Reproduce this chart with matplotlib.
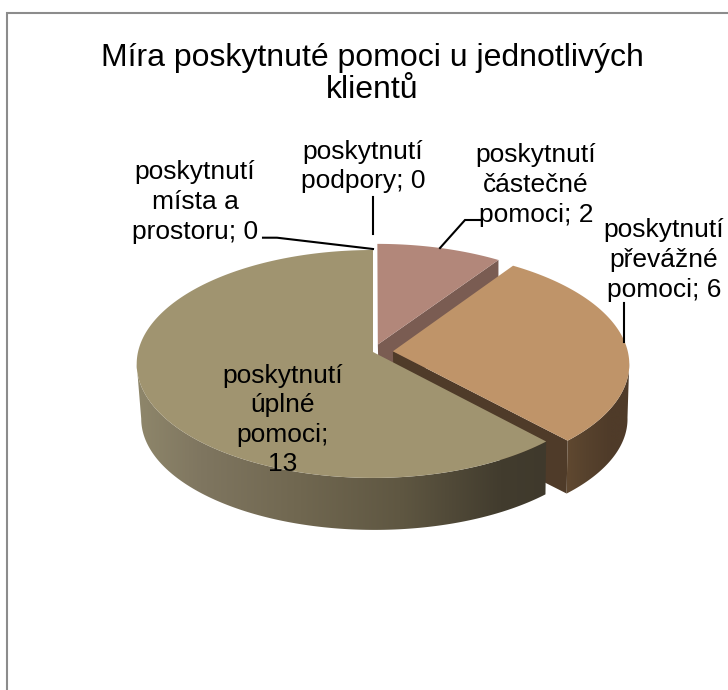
import numpy as np
import matplotlib
matplotlib.use("Agg")
import matplotlib.pyplot as plt
from matplotlib.patches import Polygon
from matplotlib.colors import to_rgb

plt.rcParams['font.family'] = ['Liberation Sans', 'DejaVu Sans']

# data
title = "Míra poskytnuté pomoci u jednotlivých\nklientů"
categories = ["poskytnutí\npodpory", "poskytnutí\nčástečné\npomoci", "poskytnutí\npřevážné\npomoci",
              "poskytnutí\núplné\npomoci", "poskytnutí\nmísta a\nprostoru"]
values = [0, 2, 6, 13, 0]

# styles
top_colors = ["#b2877a", "#b2877a", "#bf9469", "#a09470", "#a09470"]
explode = [0.0, 0.07, 0.085, 0.0, 0.0]
label_pos = [(363, 166.5), (536, 185), (664, 260), (283, 420), (195, 202)]
leaders = [[(372.7, 197), (372.7, 234)],
           [(480, 220), (465, 220), (440, 248)],
           [(624, 303), (624, 342)],
           None,
           [(263, 237.7), (277, 237.7), (373, 249)]]

K = 0.105
TOP = dict(x0=373.0, y0=352.0, A=235.0, B=112.7)
BOT = dict(x0=374.5, y0=407.0, A=232.0, B=110.0)


def project(u, v, p):
    d = 1 + K * v
    return p['x0'] + p['A'] * u / d, p['y0'] - p['B'] * v / d


fig = plt.figure(figsize=(7.28, 6.90), dpi=100)
ax = fig.add_axes([0, 0, 1, 1])
ax.set_xlim(0, 728)
ax.set_ylim(690, 0)
ax.axis('off')

# chart frame (clipped by the image on the right and the bottom)
ax.plot([7, 7, 728], [690, 13, 13], color="#8c8c8c", lw=1.5, solid_joinstyle='miter', zorder=1)

total = sum(values)
edges = np.concatenate([[0], np.cumsum(values)]) / total * 2 * np.pi


def arc(a0, a1, e_u, e_v, p, n=160):
    t = np.linspace(a0, a1, n)
    return np.array(project(np.sin(t) + e_u, np.cos(t) + e_v, p)).T


def wall(a0, a1, e_u, e_v, stops, z):
    up = arc(a0, a1, e_u, e_v, TOP)
    lo = arc(a0, a1, e_u, e_v, BOT)
    outline = np.vstack([up, lo[::-1]])
    poly = Polygon(outline, closed=True, fc='none', ec='none', transform=ax.transData)
    ax.add_patch(poly)
    x0, x1 = outline[:, 0].min() - 2, outline[:, 0].max() + 2
    y0, y1 = outline[:, 1].min() - 2, outline[:, 1].max() + 2
    xs = np.linspace(x0, x1, 400)
    sx = [s[0] for s in stops]
    rgb = np.array([to_rgb(s[1]) for s in stops])
    grad = np.stack([np.interp(xs, sx, rgb[:, c]) for c in range(3)], axis=-1)[None, :, :]
    im = ax.imshow(grad, extent=(x0, x1, y1, y0), aspect='auto', zorder=z, interpolation='bilinear')
    im.set_clip_path(poly)
    ax.set_xlim(0, 728)
    ax.set_ylim(690, 0)


def radial_wall(a, eu, ev, color, z):
    c = [project(np.sin(a) * r + eu, np.cos(a) * r + ev, TOP) for r in (0, 1)]
    b = [project(np.sin(a) * r + eu, np.cos(a) * r + ev, BOT) for r in (1, 0)]
    ax.fill(*zip(*(c + b)), color=color, lw=0, zorder=z)


z = 2
for i, val in enumerate(values):
    if val == 0:
        continue
    a0, a1 = edges[i], edges[i + 1]
    mid = (a0 + a1) / 2
    eu, ev = explode[i] * np.sin(mid), explode[i] * np.cos(mid)
    if i == 1:
        radial_wall(a1, eu, ev, "#7a5c52", z)
    if i == 2:
        radial_wall(a1, eu, ev, "#4f3b29", z)
        wall(np.pi / 2 + 0.1, a1, eu, ev,
             [(545, "#6b5035"), (585, "#57422d"), (610, "#4f3b29"), (632, "#4f3b29")], z)
    if i == 3:
        wall(a0, 1.5 * np.pi - 0.105, eu, ev,
             [(135, "#8f876b"), (200, "#7f7660"), (300, "#706750"), (400, "#5f5742"), (500, "#423c2e"), (550, "#3f392c")], z)
    apex = project(eu, ev, TOP)
    pts = np.vstack([[apex], arc(a0, a1, eu, ev, TOP, 200)])
    ax.fill(pts[:, 0], pts[:, 1], color=top_colors[i], lw=0, zorder=z + 0.5)
    z += 1

# leader lines and labels
for cat, val, pos, ln in zip(categories, values, label_pos, leaders):
    ax.text(pos[0], pos[1], f"{cat}; {val}" if val != 13 else f"{cat};\n{val}",
            fontsize=19, ha='center', va='center', linespacing=1.29, color='black', zorder=10)
    if ln is not None:
        ax.plot(*zip(*ln), color='black', lw=1.5, zorder=9, solid_joinstyle='miter')

ax.text(372, 74, title, fontsize=23, ha='center', va='center', linespacing=1.12, color='black', zorder=10)

fig.savefig("out.png", dpi=100, facecolor='white')
